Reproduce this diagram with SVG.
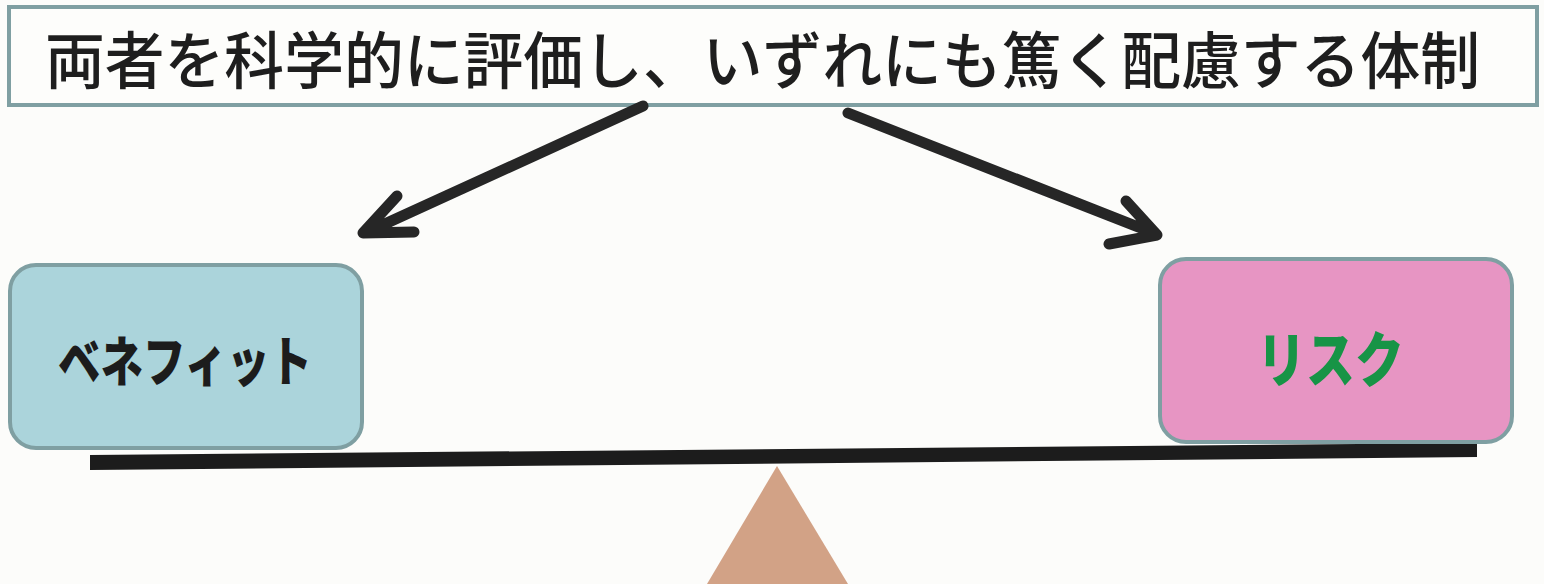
<svg xmlns="http://www.w3.org/2000/svg" width="1544" height="584" viewBox="0 0 1544 584">
<style>
.box{stroke:#7f9fa2;stroke-width:4}
.arrow{fill:none;stroke:#262626;stroke-width:11;stroke-linecap:round;stroke-linejoin:round}
.title{font-family:"Noto Sans CJK JP","Noto Sans",sans-serif;font-weight:500;font-size:62px;fill:#1e1e1e}
.lbl{font-family:"Noto Sans CJK JP","Noto Sans",sans-serif;font-weight:900}
</style>
<rect width="1544" height="584" fill="#fcfcfa"/>
<g id="title">
<rect x="9" y="7" width="1528" height="98" fill="#fdfdfb" stroke="#7f9fa2" stroke-width="4"/>
<text class="title" x="45" y="84" textLength="1435" lengthAdjust="spacingAndGlyphs">両者を科学的に評価し、いずれにも篤く配慮する体制</text>
</g>
<g id="connectors">
<path class="arrow" d="M643,106 L365,233 M397,196 L363,233 L414,232"/>
<path class="arrow" d="M848,113 L1156,234 M1126,201 L1157,235 L1109,244"/>
</g>
<g id="fulcrum">
<polygon points="777,466 707,584 848,584" fill="#d2a286"/>
</g>
<g id="beam">
<polygon points="90,455 1477,443 1477,457 90,470" fill="#1c1c1c"/>
</g>
<g id="benefit">
<rect class="box" x="10" y="265" width="352" height="183" rx="26" fill="#abd4db"/>
<text class="lbl" x="58" y="382" font-size="54" textLength="254" lengthAdjust="spacingAndGlyphs" fill="#1c1c1c">ベネフィット</text>
</g>
<g id="risk">
<rect class="box" x="1160" y="259" width="352" height="183" rx="26" fill="#e795c3"/>
<text class="lbl" x="1257" y="382" font-size="60" textLength="147" lengthAdjust="spacingAndGlyphs" fill="#179446">リスク</text>
</g>
</svg>
